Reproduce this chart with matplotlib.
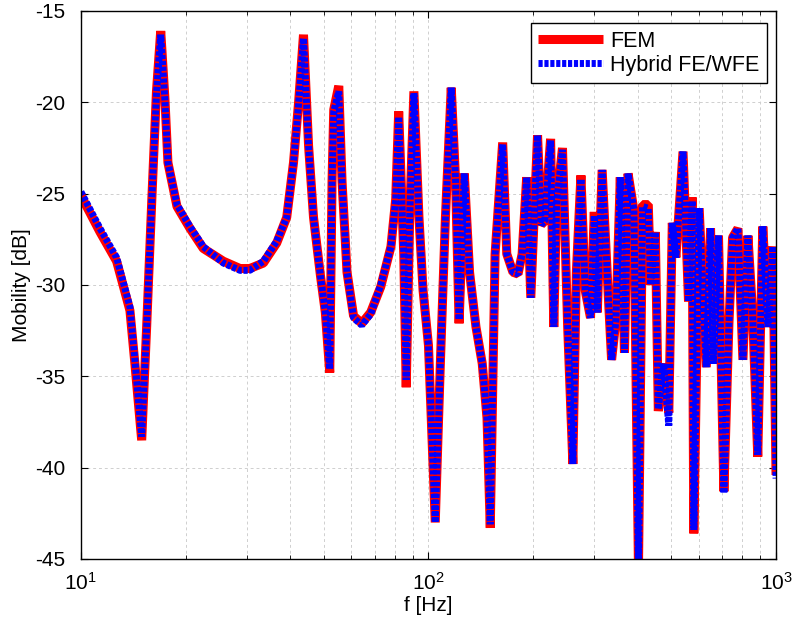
# mobility comparison FEM vs hybrid FE/WFE
import matplotlib
matplotlib.use("Agg")
import matplotlib.pyplot as plt
from matplotlib.ticker import FixedLocator, LogLocator, NullFormatter

plt.rcParams['font.family'] = ['Liberation Sans', 'DejaVu Sans']
plt.rcParams['axes.unicode_minus'] = False

freq = [10, 11.35, 12.67, 13.84, 14.3, 14.96, 15.46, 16.0, 16.5, 16.97,
        17.45, 17.8, 18.9, 20.6, 22.5, 25.7, 28.7, 30.6, 33.5, 36.6,
        39.1, 40.9, 42.3, 43.7, 45.2, 46.7, 48.9, 50.5, 52.0, 52.8,
        53.4, 55.2, 56.4, 58.3, 60.9, 64.3, 68.2, 72.9, 78.0, 80.5,
        82.1, 84.9, 86.3, 88.3, 90.8, 93.9, 96.5, 100, 104.6, 108.2,
        111.9, 116.3, 119.7, 122.5, 126.8, 131.3, 137.0, 142.8, 147.4, 150.6,
        155.5, 163.5, 168, 175, 181, 186, 191.7, 197, 206, 211,
        216, 224.6, 229.4, 233.7, 243, 251.5, 260.3, 266.4, 274.6, 282.5,
        292.6, 300, 306, 316, 328.6, 336.4, 346, 356.4, 366.4, 375.2,
        390, 402, 413, 429, 436, 449.5, 458.5, 474.6, 491.5, 503,
        515, 540, 560, 573.5, 580, 601, 630, 648, 660, 683,
        708, 732, 750, 777, 803, 830, 856, 886, 916, 948,
        979, 1000]

fem_db = [-25.1, -27.1, -28.7, -31.4, -34.3, -38.5, -32.3, -25.3, -19.4, -16.1,
          -19.8, -23.3, -25.7, -26.9, -28.0, -28.7, -29.1, -29.1, -28.8, -27.7,
          -26.3, -23.3, -20.0, -16.3, -22.4, -26.3, -29.5, -31.5, -34.8, -24.3,
          -20.4, -19.1, -24.3, -29.3, -31.7, -32.1, -31.5, -30.1, -27.9, -25.3,
          -20.5, -28.3, -35.6, -26.3, -19.4, -26.3, -30.3, -33.3, -43.0, -34.3,
          -26.3, -19.2, -24.3, -32.1, -23.9, -29.3, -32.3, -34.3, -37.3, -43.3,
          -28.3, -22.2, -28.3, -29.3, -29.4, -28.3, -24.1, -30.7, -21.8, -26.7,
          -26.5, -22.0, -32.3, -25.5, -22.5, -32.3, -39.8, -29.3, -24.0, -30.3,
          -31.8, -26.0, -31.5, -23.7, -30.3, -34.1, -32.0, -24.1, -33.7, -23.9,
          -25.9, -45.5, -25.6, -25.6, -30.0, -27.1, -36.9, -34.3, -37.0, -26.6,
          -28.5, -22.7, -30.9, -25.2, -43.6, -25.8, -34.5, -26.9, -34.3, -27.3,
          -41.3, -32.1, -27.4, -26.9, -34.1, -27.3, -31.5, -39.4, -26.8, -32.3,
          -27.9, -40.4]

hyb_db = [-24.9, -26.9, -28.5, -31.2, -34.1, -38.3, -32.3, -25.3, -19.5, -16.3,
          -19.9, -23.3, -25.6, -26.8, -27.9, -28.8, -29.2, -29.2, -28.7, -27.6,
          -26.3, -23.3, -20.1, -16.5, -22.4, -26.3, -29.5, -31.5, -34.6, -24.3,
          -20.5, -19.4, -24.3, -29.3, -31.8, -32.2, -31.6, -30.0, -27.9, -25.3,
          -20.8, -28.3, -35.2, -26.3, -19.5, -26.3, -30.3, -33.3, -43.0, -34.3,
          -26.3, -19.2, -24.3, -31.9, -23.9, -29.3, -32.3, -34.3, -37.3, -43.1,
          -28.3, -22.3, -28.3, -29.3, -29.4, -28.3, -24.1, -30.7, -21.8, -26.7,
          -26.5, -22.1, -32.3, -25.5, -22.6, -32.3, -39.8, -29.3, -24.2, -30.3,
          -31.8, -26.2, -31.5, -23.7, -30.3, -34.1, -32.0, -24.1, -33.7, -23.9,
          -25.9, -45.5, -25.7, -25.8, -30.0, -27.1, -36.8, -34.3, -37.7, -26.6,
          -28.5, -22.7, -30.9, -25.4, -43.4, -25.8, -34.5, -26.9, -34.3, -27.3,
          -41.4, -32.1, -27.4, -26.9, -34.1, -27.3, -31.5, -39.3, -26.8, -32.3,
          -27.9, -40.6]

y_ticks = [-45, -40, -35, -30, -25, -20, -15]
x_ticks = [10, 100, 1000]
x_labels = [r'$\mathregular{10^{1}}$', r'$\mathregular{10^{2}}$', r'$\mathregular{10^{3}}$']

fig = plt.figure(figsize=(7.93, 6.27), dpi=100)
ax = fig.add_axes([0.102, 0.1085, 0.8766, 0.874])

ax.semilogx(freq, fem_db, color='red', lw=6.5, solid_joinstyle='bevel',
            solid_capstyle='butt', label='FEM')
ax.semilogx(freq, hyb_db, color='blue', lw=5, dashes=(0.6, 0.25),
            dash_capstyle='butt', dash_joinstyle='bevel', label='Hybrid FE/WFE')

ax.set_xlim(10, 1000)
ax.set_ylim(-45, -15)
ax.set_yticks(y_ticks)
ax.xaxis.set_major_locator(FixedLocator(x_ticks))
ax.set_xticklabels(x_labels)
ax.xaxis.set_minor_locator(LogLocator(base=10, subs=range(2, 10)))
ax.xaxis.set_minor_formatter(NullFormatter())

ax.grid(True, which='major', color='#cfcfcf', ls=(0, (3, 3)), lw=0.7)
ax.grid(True, which='minor', axis='x', color='#cfcfcf', ls=(0, (3, 3)), lw=0.7)
ax.tick_params(which='both', direction='in', top=True, right=True, labelsize=15)
ax.tick_params(which='major', length=5)
ax.tick_params(which='minor', length=3)
ax.tick_params(axis='y', pad=11)
ax.tick_params(axis='x', pad=9)
for s in ax.spines.values():
    s.set_linewidth(1.0)

ax.set_xlabel('f [Hz]', fontsize=15, labelpad=2)
ax.set_ylabel('Mobility [dB]', fontsize=15, labelpad=3)

leg = ax.legend(loc='upper right', bbox_to_anchor=(0.987, 0.978), borderaxespad=0,
                fontsize=15.5, fancybox=False, framealpha=1, edgecolor='black',
                handlelength=3.0, handletextpad=0.35, borderpad=0.35, labelspacing=0.15)
leg.get_frame().set_linewidth(1.0)

fig.savefig('out.png', dpi=100)
